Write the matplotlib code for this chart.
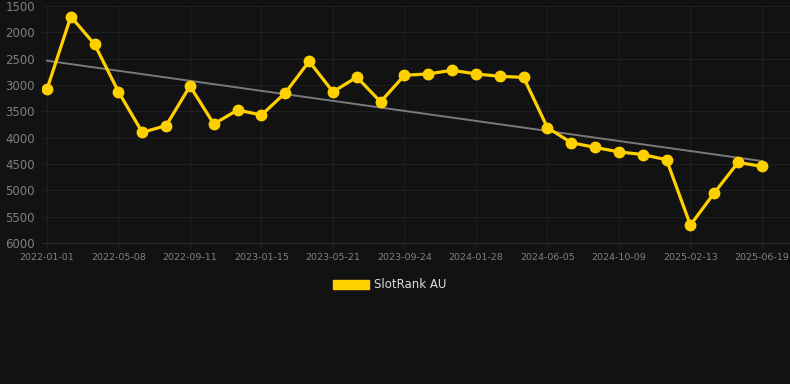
import numpy as np
import matplotlib
matplotlib.use("Agg")
import matplotlib.pyplot as plt
from matplotlib.patches import Patch

# tick labels on the x axis (every third point)
tick_labels = ["2022-01-01", "2022-05-08", "2022-09-11", "2023-01-15", "2023-05-21",
               "2023-09-24", "2024-01-28", "2024-06-05", "2024-10-09", "2025-02-13",
               "2025-06-19"]

# rank values, one point roughly every 42 days
ranks = [3080, 1700, 2230, 3130, 3900, 3770, 3020, 3740, 3475, 3570,
         3150, 2550, 3130, 2850, 3320, 2815, 2790, 2720, 2790, 2835,
         2855, 3810, 4095, 4185, 4270, 4320, 4420, 5660, 5050, 4470,
         4545]

series_name = "SlotRank AU"
bg = "#121212"
yellow = "#FFD000"

x = np.arange(len(ranks))
slope, icpt = np.polyfit(x, ranks, 1)

fig = plt.figure(figsize=(7.9, 3.84), dpi=100, facecolor=bg)
ax = fig.add_axes([42/790, 1-243/384, 1-42/790, 237/384], facecolor=bg)

ax.plot(x, slope*x + icpt, color="#7a7a7a", lw=1.4, zorder=2)
ax.plot(x, ranks, color=yellow, lw=2.3, marker="o", markersize=7.5, zorder=3)

ax.set_ylim(6000, 1500)
ax.set_xlim(-0.21, 31.18)
ax.set_yticks(np.arange(1500, 6001, 500))
ax.set_xticks(np.arange(0, len(ranks), 3))
ax.set_xticklabels(tick_labels)

ax.grid(True, color="#1f1f1f", lw=0.8)
for s in ax.spines.values():
    s.set_visible(False)
ax.spines["bottom"].set_visible(True)
ax.spines["bottom"].set_color("#2c2c2c")
ax.tick_params(axis="y", colors="#808080", labelsize=8.5, length=0, pad=5)
ax.tick_params(axis="x", colors="#808080", labelsize=6.8, length=4, color="#1f1f1f", pad=3)

leg = fig.legend(handles=[Patch(color=yellow, label=series_name)],
                 loc="center", bbox_to_anchor=(390/790, 1-285/384), frameon=False,
                 handlelength=3.0, handleheight=0.9, handletextpad=0.5, fontsize=8.5)
for t in leg.get_texts():
    t.set_color("#dddddd")

fig.savefig("out.png", dpi=100, facecolor=bg)
